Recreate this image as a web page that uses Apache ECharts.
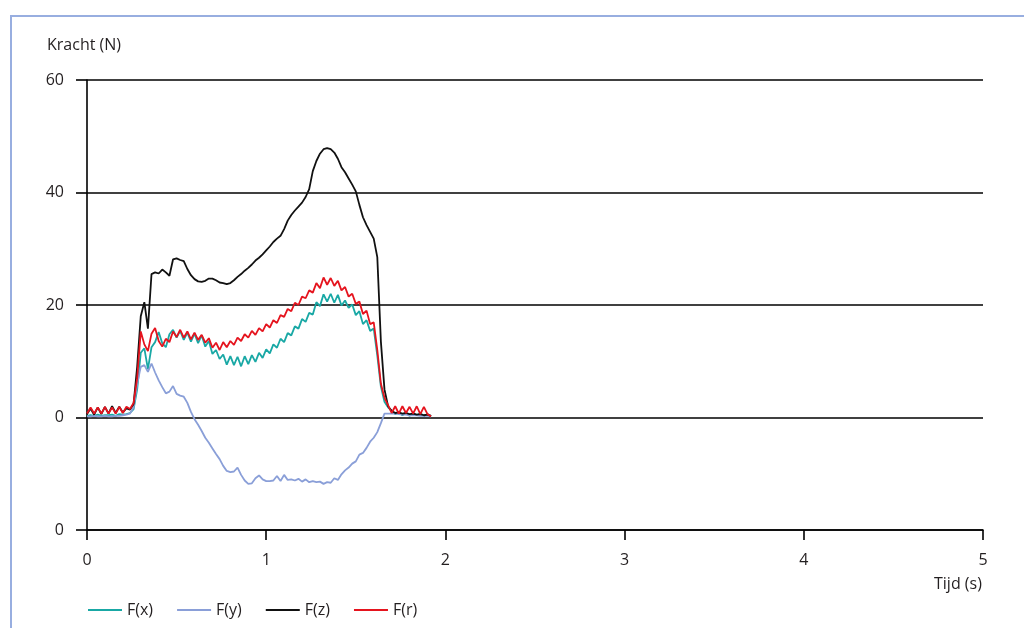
<!DOCTYPE html>
<html>
<head>
<meta charset="utf-8">
<script src="https://cdn.jsdelivr.net/npm/echarts@6/dist/echarts.min.js"></script>
<style>
  html, body { margin: 0; padding: 0; background: #fff; }
  #chart { width: 1024px; height: 628px; }
</style>
</head>
<body>
<div id="chart"></div>
<script>
// tijd (s), bemonsterd elke 0,02 s
const times = [
  0.00, 0.02, 0.04, 0.06, 0.08, 0.10, 0.12, 0.14, 0.16, 0.18,
  0.20, 0.22, 0.24, 0.26, 0.28, 0.30, 0.32, 0.34, 0.36, 0.38,
  0.40, 0.42, 0.44, 0.46, 0.48, 0.50, 0.52, 0.54, 0.56, 0.58,
  0.60, 0.62, 0.64, 0.66, 0.68, 0.70, 0.72, 0.74, 0.76, 0.78,
  0.80, 0.82, 0.84, 0.86, 0.88, 0.90, 0.92, 0.94, 0.96, 0.98,
  1.00, 1.02, 1.04, 1.06, 1.08, 1.10, 1.12, 1.14, 1.16, 1.18,
  1.20, 1.22, 1.24, 1.26, 1.28, 1.30, 1.32, 1.34, 1.36, 1.38,
  1.40, 1.42, 1.44, 1.46, 1.48, 1.50, 1.52, 1.54, 1.56, 1.58,
  1.60, 1.62, 1.64, 1.66, 1.68, 1.70, 1.72, 1.74, 1.76, 1.78,
  1.80, 1.82, 1.84, 1.86, 1.88, 1.90, 1.92
];

const fx = [
  0.3, 0.4, 0.3, 0.5, 0.3, 0.4, 0.4, 0.5, 0.3, 0.6,
  0.5, 0.6, 0.8, 1.5, 5.0, 11.5, 12.3, 8.6, 12.5, 13.4,
  15.2, 13.2, 12.5, 14.8, 15.6, 14.2, 15.4, 13.8, 15.1, 13.5,
  14.9, 13.2, 14.6, 12.6, 13.6, 11.3, 12.0, 10.4, 11.2, 9.4,
  10.9, 9.3, 10.8, 9.1, 10.9, 9.5, 11.1, 9.9, 11.5, 10.6,
  12.1, 11.4, 13.0, 12.4, 14.0, 13.4, 15.0, 14.6, 16.2, 15.8,
  17.5, 17.0, 18.6, 18.3, 20.5, 19.8, 21.9, 20.6, 22.0, 20.4,
  21.8, 19.9, 20.8, 19.5, 20.1, 18.2, 18.9, 16.6, 17.3, 15.4,
  15.8, 11.0, 5.5, 2.8, 1.8, 1.2, 0.6, 1.0, 0.4, 0.9,
  0.3, 0.8, 0.4, 0.7, 0.3, 0.6, 0.2
];

const fy = [
  0.2, 0.2, 0.3, 0.2, 0.2, 0.3, 0.2, 0.2, 0.3, 0.3,
  0.4, 0.5, 0.7, 1.8, 6.0, 9.0, 9.3, 8.1, 9.6, 8.0,
  6.6, 5.4, 4.3, 4.6, 5.6, 4.2, 3.9, 3.7, 2.6, 1.0,
  -0.3, -1.3, -2.4, -3.6, -4.5, -5.5, -6.5, -7.4, -8.6, -9.5,
  -9.7, -9.6, -8.9, -10.2, -11.2, -11.8, -11.7, -10.8, -10.3, -11.0,
  -11.3, -11.3, -11.2, -10.4, -11.3, -10.2, -11.1, -11.0, -11.2, -10.9,
  -11.4, -11.0, -11.5, -11.3, -11.5, -11.4, -11.8, -11.5, -11.6, -10.8,
  -11.1, -10.1, -9.4, -8.9, -8.2, -7.8, -6.6, -6.3, -5.4, -4.3,
  -3.6, -2.6, -1.0, 0.7, 0.7, 0.7, 0.7, 0.6, 0.5, 0.5,
  0.4, 0.4, 0.4, 0.3, 0.3, 0.3, 0.2
];

const fz = [
  0.6, 1.6, 0.5, 1.8, 0.6, 1.9, 0.7, 2.0, 0.8, 1.9,
  0.9, 1.6, 1.4, 2.4, 9.0, 18.0, 20.5, 15.8, 25.5, 25.8,
  25.6, 26.3, 25.8, 25.2, 28.1, 28.3, 28.0, 27.8, 26.4, 25.3,
  24.6, 24.2, 24.1, 24.3, 24.7, 24.7, 24.4, 24.0, 23.9, 23.7,
  23.9, 24.4, 25.0, 25.5, 26.1, 26.6, 27.2, 27.9, 28.4, 29.0,
  29.7, 30.4, 31.2, 31.8, 32.3, 33.5, 35.0, 36.0, 36.8, 37.5,
  38.2, 39.2, 40.6, 43.8, 45.6, 46.9, 47.7, 47.9, 47.7, 47.1,
  46.0, 44.5, 43.6, 42.5, 41.4, 40.2, 37.8, 35.6, 34.2, 33.0,
  31.8, 28.5, 13.5, 5.0, 2.0, 1.2, 0.8, 0.9, 0.7, 0.8,
  0.6, 0.7, 0.5, 0.6, 0.4, 0.5, 0.3
];

const fr = [
  0.7, 1.8, 0.7, 1.8, 0.7, 1.9, 0.7, 1.8, 0.7, 1.9,
  0.8, 1.9, 1.5, 2.6, 7.0, 15.3, 13.0, 11.8, 14.9, 15.9,
  13.6, 12.6, 14.0, 13.4, 15.3, 14.3, 15.6, 14.2, 15.3, 13.9,
  15.1, 13.8, 14.7, 13.3, 14.1, 12.4, 13.3, 12.0, 13.4, 12.5,
  13.6, 12.9, 14.2, 13.6, 14.8, 14.2, 15.4, 14.7, 15.9, 15.3,
  16.6, 16.0, 17.3, 16.8, 18.2, 17.9, 19.3, 18.9, 20.4, 20.0,
  21.5, 21.2, 22.6, 22.2, 23.9, 23.0, 24.9, 23.6, 24.8, 23.4,
  24.3, 22.6, 23.2, 21.5, 22.0, 20.2, 20.6, 18.4, 19.0, 16.6,
  16.9, 12.0, 6.0, 3.5, 2.2, 0.8, 2.0, 0.7, 2.0, 0.8,
  1.9, 0.7, 2.0, 0.6, 1.9, 0.6, 0.2
];

const seriesNames = ['F(x)', 'F(y)', 'F(z)', 'F(r)'];
const seriesColors = ['#19a8a5', '#8a9fd8', '#111111', '#e5141e'];

const textColor = '#231f20';
const font = '"Open Sans", "Noto Sans", sans-serif';

const chart = echarts.init(document.getElementById('chart'));

const pairs = vals => times.map((t, i) => [t, vals[i]]);

chart.setOption({
  animation: false,
  backgroundColor: '#fff',
  grid: { left: 87, right: 41, top: 80, bottom: 98 },
  graphic: [
    {
      type: 'rect',
      shape: { x: 11, y: 16, width: 1100, height: 700 },
      style: { fill: 'none', stroke: '#98aee0', lineWidth: 2 },
      silent: true
    },
    {
      type: 'text',
      left: 47, top: 37,
      style: { text: 'Kracht (N)', fill: textColor, font: '16px ' + font }
    },
    {
      type: 'text',
      left: 934, top: 576,
      style: { text: 'Tijd (s)', fill: textColor, font: '16px ' + font }
    }
  ],
  legend: {
    left: 83, top: 597,
    icon: 'rect',
    itemWidth: 34, itemHeight: 2,
    itemGap: 24,
    textStyle: { color: textColor, fontSize: 16, fontFamily: font },
    data: seriesNames
  },
  xAxis: {
    type: 'value',
    min: 0, max: 5, interval: 1,
    axisLine: { show: true, onZero: false, lineStyle: { color: '#000', width: 1.6 } },
    axisTick: { show: true, inside: false, length: 10, lineStyle: { color: '#000', width: 1.6 } },
    axisLabel: { color: textColor, fontSize: 16, fontFamily: font, margin: 22 },
    splitLine: { show: false }
  },
  yAxis: {
    type: 'value',
    min: -20, max: 60, interval: 20,
    axisLine: { show: true, onZero: false, lineStyle: { color: '#000', width: 1.6 } },
    axisTick: { show: true, inside: false, length: 11, lineStyle: { color: '#000', width: 1.6 } },
    axisLabel: {
      color: textColor, fontSize: 16, fontFamily: font, margin: 23,
      formatter: v => (v === -20 ? '0' : String(v))
    },
    splitLine: { show: true, lineStyle: { color: '#000', width: 1.6 } }
  },
  series: [fx, fy, fz, fr].map((vals, i) => ({
    name: seriesNames[i],
    type: 'line',
    data: pairs(vals),
    showSymbol: false,
    symbol: 'none',
    color: seriesColors[i],
    lineStyle: { color: seriesColors[i], width: 1.8 }
  }))
});
</script>
</body>
</html>
